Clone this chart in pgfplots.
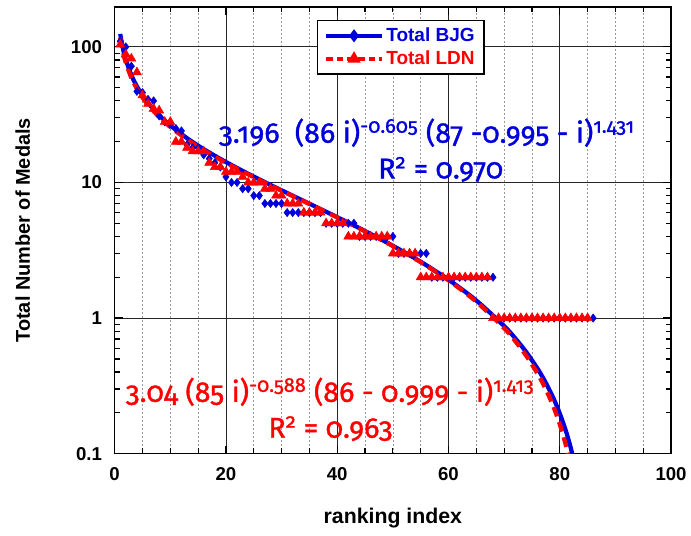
\documentclass[border=0pt]{standalone}
\usepackage{fontspec}
\setmainfont{Liberation Sans}
\newfontfamily\formfont{Fira Sans}[Numbers=OldStyle, FakeBold=1.2]
\usepackage{pgfplots}
\pgfplotsset{compat=1.18}
\usetikzlibrary{calc}
\definecolor{bjg}{RGB}{0,0,220}
\definecolor{ldn}{RGB}{255,0,0}
\begin{document}
\begin{tikzpicture}
\begin{axis}[name=a, width=418.5pt, height=336pt, scale only axis,
  xmin=0, xmax=100, ymode=log, ymin=0.1, ymax=197,
  xtick={0,20,...,100}, minor x tick num=3,
  ytick={0.1,1,10,100}, yticklabels={0.1,1,10,100},
  /pgf/number format/assume math mode=true,
  tick align=inside, major tick length=6pt, minor tick length=4pt,
  every tick/.style={black, line width=0.9pt},
  axis line style={line width=1.1pt},
  xmajorgrids, xminorgrids, ymajorgrids,
  major grid style={black!85, line width=0.6pt},
  minor grid style={black!40, dash pattern=on 1.5pt off 1.5pt, line width=0.5pt},
  ticklabel style={font=\bfseries\fontsize{14}{15}\selectfont},
  xticklabel style={yshift=-7pt},
  yticklabel style={xshift=-6pt},
  xlabel={ranking index}, ylabel={Total Number of Medals},
  every axis x label/.style={at={(axis description cs:0.5,-0.145)}, anchor=center, font=\bfseries\fontsize{16}{17}\selectfont},
  every axis y label/.style={at={(axis description cs:-0.165,0.5)}, rotate=90, anchor=center, font=\bfseries\fontsize{15}{16}\selectfont},
  legend style={at={(axis description cs:0.3638,0.971)}, anchor=north west, draw=black, line width=1pt, fill=white,
    font=\bfseries\fontsize{14.3}{15}\selectfont, inner xsep=5pt, inner ysep=3.5pt, row sep=1.5pt},
  legend cell align=left,
  legend image code/.code={\draw[#1, mark repeat=2, mark phase=2] plot coordinates {(0pt,0pt) (21pt,0pt) (42pt,0pt)};},
  clip=true,
]
% BJG data
\addplot[forget plot, only marks, mark=diamond*, mark size=3.1pt, color=bjg] coordinates {
(1,110)(2,100)(3,72)(4,47)(5,46)(6,41)(7,40)(8,31)(9,28)(10,27)
(11,25)(12,24)(13,19)(14,18)(15,18)(16,16)(17,15)(18,14)(19,13)(20,11)
(21,10)(22,10)(23,9)(24,9)(25,8)(26,8)(27,7)(28,7)(29,7)(30,7)
(31,6)(32,6)(33,6)(34,6)(35,6)(36,6)(37,6)
(38,5)(39,5)(40,5)(41,5)(42,5)(43,5)
(44,4)(45,4)(46,4)(47,4)(48,4)(49,4)(50,4)
(51,3)(52,3)(53,3)(54,3)(55,3)(56,3)
(57,2)(58,2)(59,2)(60,2)(61,2)(62,2)(63,2)(64,2)(65,2)(66,2)(67,2)(68,2)
(69,1)(70,1)(71,1)(72,1)(73,1)(74,1)(75,1)(76,1)(77,1)(78,1)(79,1)(80,1)
(81,1)(82,1)(83,1)(84,1)(85,1)(86,1)};
% LDN data
\addplot[forget plot, only marks, mark=triangle*, mark size=3.9pt, color=ldn] coordinates {
(1,104)(2,88)(3,82)(4,65)(5,44)(6,38)(7,35)(8,34)(9,28)(10,28)
(11,20)(12,20)(13,18)(14,17)(15,17)(16,17)(17,14)(18,13)(19,13)(20,12)
(21,12)(22,12)(23,11)(24,10)(25,10)(26,10)(27,9)(28,9)(29,8)(30,8)
(31,7)(32,7)(33,7)(34,6)(35,6)(36,6)(37,6)
(38,5)(39,5)(40,5)(41,5)
(42,4)(43,4)(44,4)(45,4)(46,4)(47,4)(48,4)(49,4)
(50,3)(51,3)(52,3)(53,3)(54,3)
(55,2)(56,2)(57,2)(58,2)(59,2)(60,2)(61,2)(62,2)(63,2)(64,2)(65,2)(66,2)(67,2)
(68,1)(69,1)(70,1)(71,1)(72,1)(73,1)(74,1)(75,1)(76,1)(77,1)(78,1)(79,1)
(80,1)(81,1)(82,1)(83,1)(84,1)(85,1)};
% BJG fit
\addplot[forget plot, no marks, smooth, color=bjg, line width=3.2pt] coordinates {
(1,124.53)(1.5,96.62)(2,80.50)(3,61.92)(4,51.13)(5,43.90)(6,38.62)(8,31.30)
(10,26.35)(13,21.22)(16,17.62)(20,14.155)(25,11.05)(30,8.756)(35,6.977)
(40,5.552)(45,4.385)(50,3.416)(55,2.6035)(60,1.9204)(65,1.3479)(70,0.87346)
(72,0.70938)(74,0.55965)(76,0.42428)(77,0.36206)(78,0.30355)(79,0.24886)
(80,0.19811)(81,0.15151)(81.5,0.12984)(82,0.10932)(82.5,0.0900)};
% LDN fit
\addplot[forget plot, no marks, smooth, color=ldn, line width=3.2pt, dash pattern=on 7.5pt off 4.5pt] coordinates {
(1,116.79)(1.5,91.24)(2,76.39)(3,59.16)(4,49.10)(5,42.31)(6,37.34)(8,30.41)
(10,25.69)(13,20.79)(16,17.32)(20,13.96)(25,10.94)(30,8.689)(35,6.936)
(40,5.525)(45,4.365)(50,3.3976)(55,2.5837)(60,1.8973)(65,1.3206)(70,0.84201)
(72,0.67657)(74,0.52579)(76,0.38983)(77,0.32754)(78,0.26918)(79,0.21488)
(80,0.16486)(81,0.11941)(81.5,0.09853)(82,0.07897)};
\addlegendimage{color=bjg, line width=2.6pt, mark=diamond*, mark size=2.8pt, mark options={solid}}
\addlegendentry{\textcolor{bjg}{Total BJG}}
\addlegendimage{color=ldn, line width=2.6pt, dash pattern=on 5pt off 3pt, mark=triangle*, mark size=3.2pt, mark options={solid}}
\addlegendentry{\textcolor{ldn}{Total LDN}}
\node[font=\formfont\fontsize{21.5}{23}\selectfont, text=bjg] at (axis cs:56.1,23.3)
  {3.196\ \ (86 i)\textsuperscript{-0.605} (87 -0.995 - i)\textsuperscript{1.431}};
\node[font=\formfont\fontsize{21.5}{23}\selectfont, text=bjg] at (axis cs:58.6,12.5)
  {R\textsuperscript{2} = 0.970};
\node[font=\formfont\fontsize{21.5}{23}\selectfont, text=ldn] at (axis cs:38.7,0.286)
  {3.04 (85 i)\textsuperscript{-0.588} (86 - 0.999 - i)\textsuperscript{1.413}};
\node[font=\formfont\fontsize{21.5}{23}\selectfont, text=ldn] at (axis cs:38.8,0.153)
  {R\textsuperscript{2} = 0.963};
\end{axis}
\path ($(a.south west)+(-86.25pt,-61.5pt)$) rectangle ($(a.north east)+(13.5pt,5.25pt)$);
\end{tikzpicture}
\end{document}
